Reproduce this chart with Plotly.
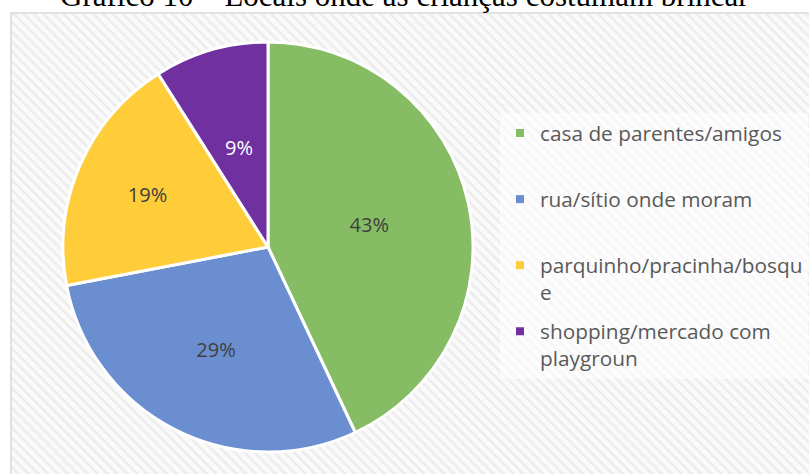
import plotly.graph_objects as go

# ---- data ----
categories = ["casa de parentes/amigos", "rua/sítio onde moram",
              "parquinho/pracinha/bosqu<br>e", "shopping/mercado com<br>playgroun"]
values = [43, 29, 19, 9]
title_text = "Gráfico 10 – Locais onde as crianças costumam brincar"

# ---- style ----
colors = ["#86BC63", "#6A8ED0", "#FFCC3A", "#7030A0"]
label_colors = ["#404040", "#404040", "#404040", "#FFFFFF"]
W, H = 809, 474
CX, CY, R = 268, 247, 205      # pie centre / radius in pixels
R_SMALL = 133                  # radius of the transparent label pie for the small slice

fig = go.Figure()

# hatched chart-area background
fig.add_trace(go.Scatter(
    x=[11, W, W, 11, 11], y=[0, 0, H - 14, H - 14, 0],
    mode="lines", fill="toself", line=dict(width=0),
    fillcolor="#FAFAFA",
    fillpattern=dict(shape="\\", fgcolor="#DDDDDD", bgcolor="#FAFAFA", size=7, solidity=0.35),
    hoverinfo="skip", showlegend=False,
))

pct = "%{percent:.0%}"
fig.add_trace(go.Pie(
    labels=categories, values=values, sort=False, direction="clockwise", rotation=0,
    marker=dict(colors=colors, line=dict(color="white", width=3)),
    texttemplate=[pct, pct, pct, ""],
    textposition="inside", insidetextorientation="horizontal",
    textfont=dict(family="Open Sans", size=20, color=label_colors),
    domain=dict(x=[(CX - R) / W, (CX + R) / W], y=[(H - CY - R) / H, (H - CY + R) / H]),
    showlegend=False, hoverinfo="label+percent",
))
# transparent pie, only to place the small slice's label nearer the centre
fig.add_trace(go.Pie(
    labels=categories, values=values, sort=False, direction="clockwise", rotation=0,
    marker=dict(colors=["rgba(0,0,0,0)"] * 4, line=dict(width=0)),
    texttemplate=["", "", "", pct],
    textposition="inside", insidetextorientation="horizontal",
    textfont=dict(family="Open Sans", size=20, color=label_colors),
    domain=dict(x=[(CX - R_SMALL) / W, (CX + R_SMALL) / W],
                y=[(H - CY - R_SMALL) / H, (H - CY + R_SMALL) / H]),
    showlegend=False, hoverinfo="skip",
))

# legend entries (one per category)
for i, (c, col) in enumerate(zip(categories, colors)):
    lab = c if "<br>" in c else c + "<br> "
    fig.add_trace(go.Scatter(
        x=[None], y=[None], mode="markers", name=lab,
        marker=dict(symbol="square", size=8, color=col),
        legendgroup=f"g{i}", showlegend=True,
    ))

fig.add_annotation(
    text=title_text, xref="paper", yref="paper", x=0.5, y=1, yanchor="bottom",
    yshift=-15, showarrow=False,
    font=dict(family="Liberation Serif", size=31, color="#000000"),
)

fig.add_shape(type="rect", xref="x", yref="y", x0=11, x1=W + 5, y0=-5, y1=H - 13,
              line=dict(color="#D9D9D9", width=1.5), layer="above")

fig.update_layout(
    width=W, height=H, margin=dict(l=0, r=0, t=0, b=0, autoexpand=False),
    paper_bgcolor="white", plot_bgcolor="white",
    xaxis=dict(range=[0, W], visible=False, fixedrange=True),
    yaxis=dict(range=[0, H], visible=False, fixedrange=True),
    legend=dict(
        x=500 / W, y=1 - 113 / H, xanchor="left", yanchor="top",
        bgcolor="rgba(255,255,255,0.55)", traceorder="grouped", tracegroupgap=9,
        valign="top", itemwidth=30,
        font=dict(family="Open Sans", size=20.8, color="#595959"),
    ),
)

fig.write_html("out.html", config={"displayModeBar": False},
               post_script="document.body.style.margin='0';")
